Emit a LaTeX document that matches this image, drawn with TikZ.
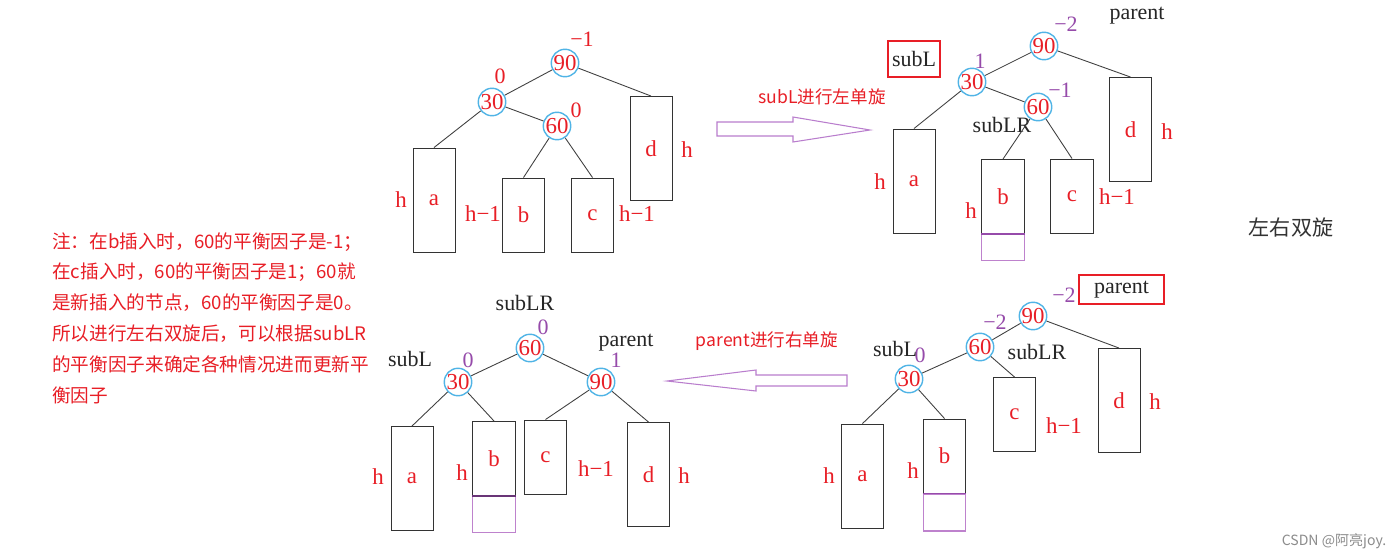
\documentclass[tikz,border=0pt]{standalone}
\usepackage{fontspec}
\setmainfont{Liberation Serif}
\newfontfamily\cjk{Noto Sans CJK SC}
\usepackage{xcolor}
\usepackage{tikz}
\usetikzlibrary{positioning}

\definecolor{mred}{RGB}{232,30,38}
\definecolor{ringblue}{RGB}{80,180,230}
\definecolor{bfpurple}{RGB}{150,75,170}
\definecolor{extpurple}{RGB}{190,130,205}
\definecolor{arrowpurple}{RGB}{185,125,205}

\tikzset{
  key/.style={circle, draw=ringblue, line width=0.8pt, inner sep=0pt,
    minimum size=0.52cm, text=mred, font=\fontsize{13}{13}\selectfont},
  subtree/.style={draw=black!80, line width=0.55pt, inner sep=0pt,
    text=mred, font=\fontsize{13}{13}\selectfont},
  tall/.style={subtree, minimum width=0.84cm, minimum height=2.08cm},
  short/.style={subtree, minimum width=0.85cm, minimum height=1.48cm},
  ext/.style={draw=extpurple, line width=0.6pt, inner sep=0pt, minimum width=0.85cm},
  hgt/.style={text=mred, font=\fontsize{13}{13}\selectfont, inner sep=0pt},
  bf/.style={text=bfpurple, font=\fontsize{12.5}{12.5}\selectfont, inner sep=0pt},
  rbf/.style={text=mred, font=\fontsize{12.5}{12.5}\selectfont, inner sep=0pt},
  tag/.style={text=black!85, font=\fontsize{12.5}{12.5}\selectfont, inner sep=0pt},
  redbox/.style={tag, draw=mred, line width=1.4pt},
  edge/.style={draw=black!75, line width=0.5pt},
  blockarrow/.style={draw=arrowpurple, line width=0.6pt},
  caption/.style={text=mred, font=\cjk\fontsize{10}{10}\selectfont, inner sep=0pt}
}

\begin{document}
\begin{tikzpicture}[x=0.02cm, y=-0.02cm]
  \useasboundingbox (0,0) rectangle (1400,558);
  \fill[white] (0,0) rectangle (1400,558);

  % ---- note on the left
  \node[caption, anchor=north west, align=left, font=\cjk\fontsize{10.6}{17.6}\selectfont]
    (note) at (52,232) {注：在b插入时，60的平衡因子是-1；\\
    在c插入时，60的平衡因子是1；60就\\
    是新插入的节点，60的平衡因子是0。\\
    所以进行左右双旋后，可以根据subLR\\
    的平衡因子来确定各种情况进而更新平\\
    衡因子};

  % ---- tree 1: after insertion
  \node[key] (t1n90) at (565,63) {90};
  \node[key] (t1n30) at (492,102) {30};
  \node[key] (t1n60) at (557,126) {60};
  \node[rbf] (t1f90) at (582,39) {−1};
  \node[rbf] (t1f30) at (500,76) {0};
  \node[rbf] (t1f60) at (576,110) {0};
  \node[tall] (t1a) at (434,200) {a};
  \node[short] (t1b) at (523.5,215) {b};
  \node[short] (t1c) at (592.5,215) {c};
  \node[tall] (t1d) at (651,148.5) {d};
  \node[hgt] (t1ha) at (401,200) {h};
  \node[hgt] (t1hb) at (483,214) {h−1};
  \node[hgt] (t1hc) at (637,214) {h−1};
  \node[hgt] (t1hd) at (687,150) {h};
  \draw[edge] (t1n90) -- (t1n30);
  \draw[edge] (t1n90) -- (t1d.north);
  \draw[edge] (t1n30) -- (t1a.north);
  \draw[edge] (t1n30) -- (t1n60);
  \draw[edge] (t1n60) -- (t1b.north);
  \draw[edge] (t1n60) -- (t1c.north);

  % ---- arrow 1: left rotation on subL
  \node[caption] (rot1) at (822,97) {subL进行左单旋};
  \draw[blockarrow] (717,122) -- (793,122) -- (793,117) -- (870,130)
    -- (793,142) -- (793,136) -- (717,136) -- cycle;

  % ---- tree 2: before left rotation
  \node[key] (t2n90) at (1044,46) {90};
  \node[key] (t2n30) at (972,82) {30};
  \node[key] (t2n60) at (1038,107) {60};
  \node[bf] (t2f90) at (1066,24) {−2};
  \node[bf] (t2f30) at (980,61) {1};
  \node[bf] (t2f60) at (1060,90) {−1};
  \node[tag] (t2par) at (1137,16) {parent};
  \node[redbox, minimum width=1.04cm, minimum height=0.72cm] (t2subl) at (914,59) {subL};
  \node[tag] (t2sublr) at (1002,125) {subLR};
  \node[tall] (t2a) at (914,181) {a};
  \node[short] (t2b) at (1003,196.5) {b};
  \node[ext, minimum height=0.52cm, anchor=north] (t2e) at (t2b.south) {};
  \node[short] (t2c) at (1072,196) {c};
  \node[tall] (t2d) at (1130.5,129.5) {d};
  \draw[bfpurple, line width=0.8pt] (t2b.south west) -- (t2b.south east);
  \node[hgt] (t2ha) at (880,182) {h};
  \node[hgt] (t2hb) at (971,211) {h};
  \node[hgt] (t2hc) at (1117,197) {h−1};
  \node[hgt] (t2hd) at (1167,132) {h};
  \draw[edge] (t2n90) -- (t2n30);
  \draw[edge] (t2n90) -- (t2d.north);
  \draw[edge] (t2n30) -- (t2a.north);
  \draw[edge] (t2n30) -- (t2n60);
  \draw[edge] (t2n60) -- (t2b.north);
  \draw[edge] (t2n60) -- (t2c.north);

  % ---- label on the right
  \node[font=\cjk\fontsize{12}{12}\selectfont, text=black!80, inner sep=0pt]
    (title) at (1291,227) {左右双旋};

  % ---- tree 4: after left rotation, before right rotation
  \node[key] (t4n90) at (1033,316) {90};
  \node[key] (t4n60) at (980,347) {60};
  \node[key] (t4n30) at (909,379) {30};
  \node[bf] (t4f90) at (1064,295) {−2};
  \node[bf] (t4f60) at (995,322) {−2};
  \node[bf] (t4f30) at (920,355) {0};
  \node[redbox, minimum width=1.7cm, minimum height=0.58cm] (t4par) at (1121.5,289.5) {parent};
  \node[tag] (t4sublr) at (1037,352) {subLR};
  \node[tag] (t4subl) at (895,349) {subL};
  \node[tall] (t4a) at (862.5,476) {a};
  \node[short] (t4b) at (944.5,456) {b};
  \node[ext, minimum height=0.74cm, anchor=north] (t4e) at (t4b.south) {};
  \node[short] (t4c) at (1014.5,414.5) {c};
  \node[tall] (t4d) at (1119,400.5) {d};
  \draw[bfpurple, line width=0.8pt] (t4b.south west) -- (t4b.south east);
  \node[hgt] (t4ha) at (829,476) {h};
  \node[hgt] (t4hb) at (913,471) {h};
  \node[hgt] (t4hc) at (1064,426) {h−1};
  \node[hgt] (t4hd) at (1155,402) {h};
  \draw[edge] (t4n90) -- (t4n60);
  \draw[edge] (t4n90) -- (t4d.north);
  \draw[edge] (t4n60) -- (t4n30);
  \draw[edge] (t4n60) -- (t4c.north);
  \draw[edge] (t4n30) -- (t4a.north);
  \draw[edge] (t4n30) -- (t4b.north);

  % ---- arrow 2: right rotation on parent
  \node[caption] (rot2) at (767,341) {parent进行右单旋};
  \draw[blockarrow] (847,375) -- (756,375) -- (756,370) -- (667,381)
    -- (756,391) -- (756,386) -- (847,386) -- cycle;

  % ---- tree 3: result
  \node[key] (t3n60) at (530,348) {60};
  \node[key] (t3n30) at (458,382) {30};
  \node[key] (t3n90) at (601,382) {90};
  \node[bf] (t3f60) at (543,327) {0};
  \node[bf] (t3f30) at (468,360) {0};
  \node[bf] (t3f90) at (616,360) {1};
  \node[tag] (t3sublr) at (525,303) {subLR};
  \node[tag] (t3subl) at (410,359) {subL};
  \node[tag] (t3par) at (626,343) {parent};
  \node[tall] (t3a) at (412,478.5) {a};
  \node[short] (t3b) at (494,458.5) {b};
  \node[ext, minimum height=0.72cm, anchor=north] (t3e) at (t3b.south) {};
  \node[short] (t3c) at (545.5,457) {c};
  \node[tall] (t3d) at (648.5,474.5) {d};
  \draw[bfpurple!70!black, line width=0.8pt] (t3b.south west) -- (t3b.south east);
  \node[hgt] (t3ha) at (378,477) {h};
  \node[hgt] (t3hb) at (462,473) {h};
  \node[hgt] (t3hc) at (596,469) {h−1};
  \node[hgt] (t3hd) at (684,476) {h};
  \draw[edge] (t3n60) -- (t3n30);
  \draw[edge] (t3n60) -- (t3n90);
  \draw[edge] (t3n30) -- (t3a.north);
  \draw[edge] (t3n30) -- (t3b.north);
  \draw[edge] (t3n90) -- (t3c.north);
  \draw[edge] (t3n90) -- (t3d.north);

  % ---- watermark
  \node[font=\cjk\fontsize{8}{8}\selectfont, text=black!45, inner sep=0pt]
    (mark) at (1334,541) {CSDN @阿亮joy.};
\end{tikzpicture}
\end{document}
